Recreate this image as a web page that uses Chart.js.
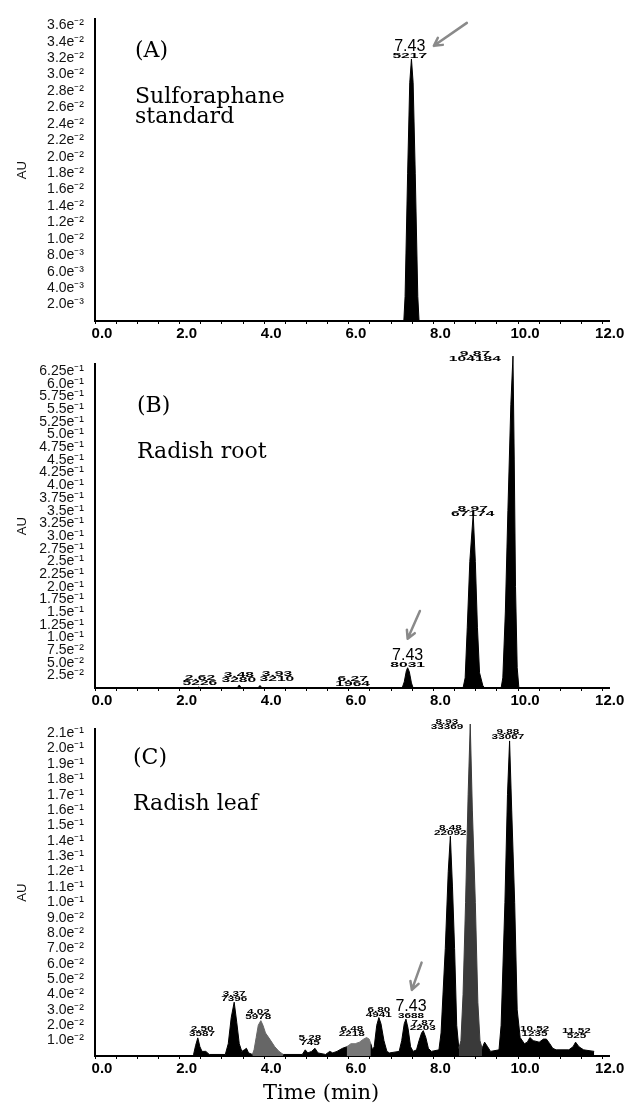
<!DOCTYPE html>
<html>
<head>
<meta charset="utf-8">
<script src="https://cdn.jsdelivr.net/npm/chart.js@4.4.1/dist/chart.umd.min.js"></script>
<style>
  body { margin: 0; background: #fff; }
  #wrap { position: relative; width: 630px; height: 1103px; }
  canvas { position: absolute; left: 0; }
</style>
</head>
<body>
<div id="wrap">
  <canvas id="panelA" width="630" height="345" style="top:0px"></canvas>
  <canvas id="panelB" width="630" height="365" style="top:345px"></canvas>
  <canvas id="panelC" width="630" height="393" style="top:710px"></canvas>
</div>
<script>
// ---- axis ticks ----
const timeTickValues = [0, 2, 4, 6, 8, 10, 12];
const timeTickLabels = ['0.0', '2.0', '4.0', '6.0', '8.0', '10.0', '12.0'];

const auTicksA = [0.002, 0.004, 0.006, 0.008, 0.010, 0.012, 0.014, 0.016, 0.018, 0.020,
  0.022, 0.024, 0.026, 0.028, 0.030, 0.032, 0.034, 0.036];
const auLabelsA = ['2.0e⁻³', '4.0e⁻³', '6.0e⁻³', '8.0e⁻³', '1.0e⁻²', '1.2e⁻²', '1.4e⁻²', '1.6e⁻²',
  '1.8e⁻²', '2.0e⁻²', '2.2e⁻²', '2.4e⁻²', '2.6e⁻²', '2.8e⁻²', '3.0e⁻²', '3.2e⁻²', '3.4e⁻²', '3.6e⁻²'];

const auTicksB = [0.025, 0.05, 0.075, 0.1, 0.125, 0.15, 0.175, 0.2, 0.225, 0.25, 0.275, 0.3,
  0.325, 0.35, 0.375, 0.4, 0.425, 0.45, 0.475, 0.5, 0.525, 0.55, 0.575, 0.6, 0.625];
const auLabelsB = ['2.5e⁻²', '5.0e⁻²', '7.5e⁻²', '1.0e⁻¹', '1.25e⁻¹', '1.5e⁻¹', '1.75e⁻¹', '2.0e⁻¹',
  '2.25e⁻¹', '2.5e⁻¹', '2.75e⁻¹', '3.0e⁻¹', '3.25e⁻¹', '3.5e⁻¹', '3.75e⁻¹', '4.0e⁻¹', '4.25e⁻¹',
  '4.5e⁻¹', '4.75e⁻¹', '5.0e⁻¹', '5.25e⁻¹', '5.5e⁻¹', '5.75e⁻¹', '6.0e⁻¹', '6.25e⁻¹'];

const auTicksC = [0.01, 0.02, 0.03, 0.04, 0.05, 0.06, 0.07, 0.08, 0.09, 0.10, 0.11, 0.12,
  0.13, 0.14, 0.15, 0.16, 0.17, 0.18, 0.19, 0.20, 0.21];
const auLabelsC = ['1.0e⁻²', '2.0e⁻²', '3.0e⁻²', '4.0e⁻²', '5.0e⁻²', '6.0e⁻²', '7.0e⁻²', '8.0e⁻²',
  '9.0e⁻²', '1.0e⁻¹', '1.1e⁻¹', '1.2e⁻¹', '1.3e⁻¹', '1.4e⁻¹', '1.5e⁻¹', '1.6e⁻¹', '1.7e⁻¹',
  '1.8e⁻¹', '1.9e⁻¹', '2.0e⁻¹', '2.1e⁻¹'];

// ---- traces [time (min), AU] ----
const traceA = [[0, 0], [7.30, 0], [7.33, 0.003], [7.39, 0.018], [7.44, 0.029], [7.48, 0.0319],
  [7.52, 0.029], [7.57, 0.018], [7.63, 0.003], [7.66, 0], [12.0, 0]];

const traceB = [[0, 0], [2.40, 0], [2.45, 0.002], [2.50, 0], [3.36, 0], [3.41, 0.006], [3.46, 0],
  [3.85, 0], [3.90, 0.005], [3.95, 0], [7.26, 0], [7.31, 0.012], [7.36, 0.034], [7.39, 0.040],
  [7.43, 0.032], [7.48, 0.010], [7.52, 0], [8.70, 0], [8.75, 0.02], [8.80, 0.12], [8.86, 0.25],
  [8.94, 0.343], [8.99, 0.25], [9.04, 0.12], [9.09, 0.03], [9.17, 0.004], [9.22, 0], [9.60, 0],
  [9.64, 0.02], [9.70, 0.15], [9.76, 0.35], [9.83, 0.56], [9.88, 0.655], [9.91, 0.45], [9.94, 0.2],
  [9.98, 0.04], [10.02, 0], [12.0, 0]];

const traceC = [[0, 0], [2.30, 0], [2.33, 0.001], [2.38, 0.007], [2.43, 0.0118], [2.48, 0.006],
  [2.53, 0.003], [2.62, 0.003], [2.70, 0.001], [3.08, 0.001], [3.15, 0.008], [3.22, 0.025],
  [3.29, 0.035], [3.35, 0.022], [3.41, 0.008], [3.47, 0.003], [3.53, 0.004], [3.58, 0.005],
  [3.63, 0.002], [3.72, 0.001], [4.45, 0.001], [4.90, 0.001], [4.97, 0.004], [5.03, 0.002],
  [5.12, 0.003], [5.20, 0.005], [5.27, 0.002], [5.45, 0.001], [5.55, 0.003], [5.62, 0.002],
  [5.72, 0.003], [5.85, 0.005], [5.95, 0.006], [6.52, 0.008], [6.56, 0.004], [6.60, 0.006],
  [6.66, 0.02], [6.71, 0.025], [6.76, 0.021], [6.83, 0.010], [6.90, 0.003], [6.96, 0.002],
  [7.19, 0.003], [7.25, 0.010], [7.31, 0.021], [7.35, 0.024], [7.40, 0.018], [7.46, 0.006],
  [7.52, 0.003], [7.60, 0.004], [7.66, 0.010], [7.72, 0.015], [7.76, 0.0165], [7.82, 0.012],
  [7.88, 0.005], [7.95, 0.003], [8.13, 0.004], [8.18, 0.015], [8.28, 0.07], [8.35, 0.12],
  [8.40, 0.143], [8.45, 0.11], [8.50, 0.07], [8.55, 0.02], [8.60, 0.005], [9.15, 0.005],
  [9.21, 0.009], [9.28, 0.006], [9.35, 0.003], [9.55, 0.004], [9.60, 0.02], [9.69, 0.10],
  [9.75, 0.17], [9.80, 0.205], [9.85, 0.16], [9.92, 0.10], [9.98, 0.03], [10.05, 0.012],
  [10.15, 0.008], [10.22, 0.009], [10.28, 0.012], [10.36, 0.010], [10.50, 0.009], [10.60, 0.011],
  [10.67, 0.011], [10.75, 0.008], [10.82, 0.005], [10.90, 0.004], [11.20, 0.004], [11.30, 0.006],
  [11.36, 0.009], [11.44, 0.006], [11.55, 0.004], [11.80, 0.003]];

// grey-shaded peaks in (C)
const greyPeak402 = [[3.72, 0.001], [3.76, 0.004], [3.81, 0.012], [3.86, 0.020], [3.92, 0.023],
  [3.97, 0.020], [4.03, 0.015], [4.13, 0.011], [4.25, 0.006], [4.35, 0.003], [4.45, 0.001]];
const greyPeak648 = [[5.95, 0.006], [6.05, 0.008], [6.15, 0.008], [6.25, 0.009], [6.35, 0.011],
  [6.42, 0.012], [6.48, 0.011], [6.52, 0.008]];
const greyPeak893 = [[8.60, 0.005], [8.65, 0.010], [8.70, 0.04], [8.76, 0.10], [8.82, 0.17],
  [8.87, 0.216], [8.92, 0.16], [8.99, 0.10], [9.05, 0.035], [9.10, 0.010], [9.15, 0.005]];

// ---- peak annotations: [retention time, area, anchor time, anchor AU] ----
const targetRt = '7.43';
const peaksA = [['7.43', '5217', 7.44, 0.0320]];
const peaksB = [['2.62', '5226', 2.48, 0.006], ['3.48', '3280', 3.40, 0.012], ['3.93', '3210', 4.30, 0.014],
  ['6.27', '1964', 6.09, 0.004], ['7.43', '8031', 7.39, 0.041], ['8.97', '67174', 8.93, 0.339],
  ['9.87', '104184', 8.98, 0.645]];
const peaksC = [['2.50', '3587', 2.53, 0.0127], ['3.37', '7396', 3.29, 0.036], ['4.02', '5978', 3.86, 0.024],
  ['5.28', '745', 5.08, 0.007], ['6.48', '2218', 6.07, 0.0127], ['6.80', '4941', 6.71, 0.0253],
  ['7.43', '3688', 7.47, 0.0247], ['7.87', '2203', 7.75, 0.0171], ['8.48', '22092', 8.40, 0.144],
  ['8.93', '33369', 8.32, 0.213], ['9.88', '33067', 9.76, 0.206], ['10.52', '1235', 10.39, 0.0127],
  ['11.52', '525', 11.38, 0.0114]];

function toXY(points) {
  return points.map(p => ({ x: p[0], y: p[1] }));
}

function notesPlugin(notes) {
  return {
    id: 'notes',
    afterDatasetsDraw(chart) {
      const { ctx, scales: { x, y } } = chart;
      ctx.save();
      ctx.fillStyle = '#000';
      ctx.textBaseline = 'alphabetic';

      // panel captions
      ctx.textAlign = 'left';
      notes.captions.forEach(c => {
        ctx.font = c.size + 'px "DejaVu Serif", serif';
        ctx.fillText(c.text, c.x, c.y);
      });

      // peak labels
      ctx.textAlign = 'center';
      notes.peaks.forEach(p => {
        const px = x.getPixelForValue(p[2]);
        const py = y.getPixelForValue(p[3]);
        drawStretched(ctx, p[1], px, py, notes.stretch);
        if (p[0] === targetRt) {
          ctx.font = '16px "Liberation Sans", Arial, sans-serif';
          ctx.fillText(p[0], px, py - 7);
        } else {
          drawStretched(ctx, p[0], px, py - 5, notes.stretch);
        }
      });

      // arrow to the sulforaphane peak
      const a = notes.arrow;
      const x1 = x.getPixelForValue(a[0]), y1 = y.getPixelForValue(a[1]);
      const x2 = x.getPixelForValue(a[2]), y2 = y.getPixelForValue(a[3]);
      ctx.strokeStyle = '#8a8a8a';
      ctx.lineWidth = 2.5;
      ctx.lineCap = 'round';
      ctx.beginPath();
      ctx.moveTo(x1, y1);
      ctx.lineTo(x2, y2);
      const ang = Math.atan2(y2 - y1, x2 - x1);
      [0.5, -0.5].forEach(d => {
        ctx.moveTo(x2, y2);
        ctx.lineTo(x2 - 9 * Math.cos(ang + d), y2 - 9 * Math.sin(ang + d));
      });
      ctx.stroke();
      ctx.restore();
    }
  };
}

function drawStretched(ctx, text, px, py, sx) {
  ctx.save();
  ctx.translate(px, py);
  ctx.scale(sx, 1);
  ctx.font = 'bold 6.5px "Liberation Sans", Arial, sans-serif';
  ctx.fillText(text, 0, 0);
  ctx.restore();
}

function buildPanel(id, cfg) {
  const datasets = cfg.series.map(s => ({
    data: toXY(s.points),
    borderColor: s.color,
    backgroundColor: s.color,
    borderWidth: 1,
    fill: 'origin',
    pointRadius: 0,
    tension: 0,
    clip: false
  }));

  return new Chart(document.getElementById(id), {
    type: 'line',
    data: { datasets },
    options: {
      responsive: false,
      animation: false,
      layout: { padding: { top: cfg.top, right: 21, left: 0, bottom: 0 } },
      plugins: { legend: { display: false }, tooltip: { enabled: false } },
      scales: {
        x: {
          type: 'linear',
          min: 0,
          max: 12.15,
          afterBuildTicks: scale => {
            const ticks = [];
            for (let i = 0; i <= 24; i++) ticks.push({ value: i * 0.5 });
            scale.ticks = ticks;
          },
          afterFit: scale => { scale.height = cfg.xHeight; },
          ticks: {
            autoSkip: false,
            maxRotation: 0,
            minRotation: 0,
            padding: 1,
            labelOffset: 7,
            color: '#000',
            font: { family: '"Liberation Sans", Arial, sans-serif', size: 15, weight: 'bold' },
            callback: value => {
              const i = timeTickValues.indexOf(value);
              return i >= 0 ? timeTickLabels[i] : '';
            }
          },
          grid: { display: true, drawOnChartArea: false, drawTicks: true, tickLength: 3, color: '#000' },
          border: { display: true, color: '#000', width: 2 }
        },
        y: {
          type: 'linear',
          min: 0,
          max: cfg.yMax,
          afterBuildTicks: scale => {
            scale.ticks = cfg.yTicks.map(v => ({ value: v }));
          },
          afterFit: scale => { scale.width = 95; },
          ticks: {
            autoSkip: false,
            padding: 11,
            color: '#111',
            font: { family: '"Liberation Sans", Arial, sans-serif', size: 14 },
            callback: value => {
              const i = cfg.yTicks.indexOf(value);
              return i >= 0 ? cfg.yLabels[i] : '';
            }
          },
          grid: { display: false, drawTicks: false },
          border: { display: true, color: '#000', width: 2 },
          title: {
            display: true,
            text: 'AU',
            color: '#111',
            font: { family: '"Liberation Sans", Arial, sans-serif', size: 13 },
            padding: { top: 15, bottom: 0 }
          }
        }
      }
    },
    plugins: [notesPlugin(cfg.notes)]
  });
}

buildPanel('panelA', {
  top: 16, xHeight: 24, yMax: 0.03672,
  yTicks: auTicksA, yLabels: auLabelsA,
  series: [{ points: traceA, color: '#000' }],
  notes: {
    stretch: 2.4,
    captions: [
      { text: '(A)', x: 135, y: 57, size: 22 },
      { text: 'Sulforaphane', x: 135, y: 103, size: 22 },
      { text: 'standard', x: 135, y: 123, size: 22 }
    ],
    peaks: peaksA,
    arrow: [8.79, 0.0363, 8.01, 0.0335]
  }
});

buildPanel('panelB', {
  top: 15, xHeight: 22, yMax: 0.6386,
  yTicks: auTicksB, yLabels: auLabelsB,
  series: [{ points: traceB, color: '#000' }],
  notes: {
    stretch: 2.4,
    captions: [
      { text: '(B)', x: 137, y: 67, size: 22 },
      { text: 'Radish root', x: 137, y: 113, size: 22 }
    ],
    peaks: peaksB,
    arrow: [7.68, 0.152, 7.39, 0.0974]
  }
});

buildPanel('panelC', {
  top: 10, xHeight: 47, yMax: 0.2125,
  yTicks: auTicksC, yLabels: auLabelsC,
  series: [
    { points: greyPeak402, color: '#666666' },
    { points: greyPeak648, color: '#777777' },
    { points: greyPeak893, color: '#3a3a3a' },
    { points: traceC, color: '#000' }
  ],
  notes: {
    stretch: 1.8,
    captions: [
      { text: '(C)', x: 133, y: 54, size: 22 },
      { text: 'Radish leaf', x: 133, y: 100, size: 22 },
      { text: 'Time (min)', x: 263, y: 389, size: 21 }
    ],
    peaks: peaksC,
    arrow: [7.72, 0.0608, 7.49, 0.043]
  }
});
</script>
</body>
</html>
